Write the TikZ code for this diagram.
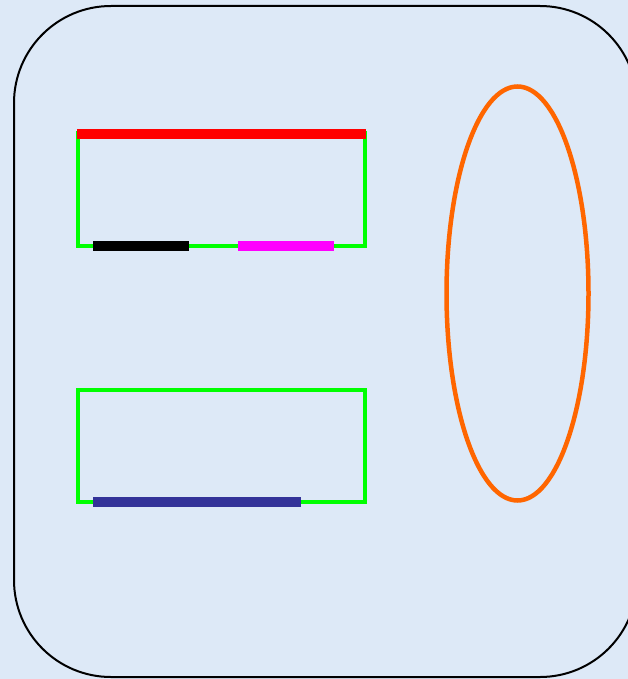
\documentclass[tikz,border=0pt]{standalone}
\definecolor{paper}{RGB}{221,233,247}
\definecolor{limegreen}{RGB}{0,255,0}
\definecolor{navy}{RGB}{51,51,153}
\definecolor{pumpkin}{RGB}{255,102,0}
\definecolor{fuchsia}{RGB}{255,0,255}
\definecolor{pure red}{RGB}{255,0,0}
\tikzset{
    frame/.style={draw=limegreen, line width=4.8pt},
    bar/.style={line width=10pt},
}
\begin{document}
\begin{tikzpicture}[x=1pt,y=-1pt]
    \fill[paper] (0,0) rectangle (628,679);
    \useasboundingbox (0,0) rectangle (628,679);
    \draw[line width=2pt, rounded corners=97pt] (14,6) rectangle (637,677);
    % upper box
    \draw[frame] (78,133) rectangle (365,246);
    \draw[bar, pure red] (77.3,134) -- (365.7,134);
    \draw[bar, black] (93.3,246) -- (189.3,246);
    \draw[bar, fuchsia] (237.7,246) -- (333.7,246);
    % lower box
    \draw[frame] (78,390) rectangle (365,502);
    \draw[bar, navy] (93.3,502) -- (301.3,502);
    % ellipse
    \draw[pumpkin, line width=4.5pt] (517.5,293.5) ellipse (71pt and 207pt);
\end{tikzpicture}
\end{document}
